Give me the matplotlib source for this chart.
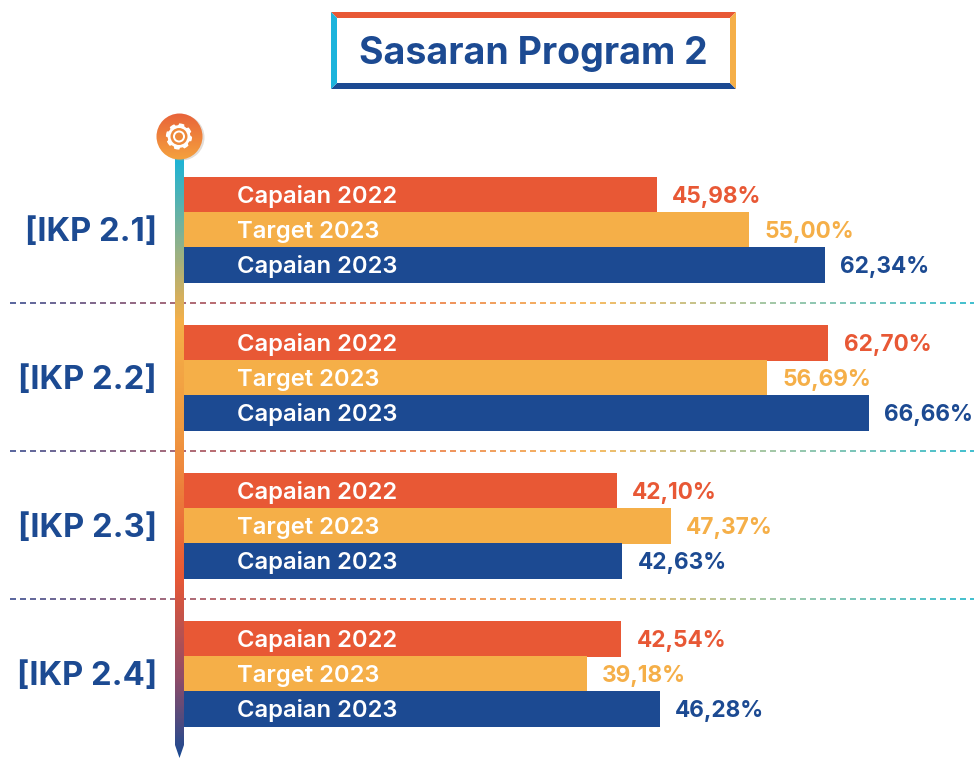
import numpy as np
import matplotlib
matplotlib.use("Agg")
import matplotlib.pyplot as plt
from matplotlib.colors import LinearSegmentedColormap
from matplotlib.patches import Polygon, Circle, Rectangle
from matplotlib.collections import LineCollection

groups = ["[IKP 2.1]", "[IKP 2.2]", "[IKP 2.3]", "[IKP 2.4]"]
series = ["Capaian 2022", "Target 2023", "Capaian 2023"]
capaian_2022 = [45.98, 62.70, 42.10, 42.54]
target_2023 = [55.00, 56.69, 47.37, 39.18]
capaian_2023 = [62.34, 66.66, 42.63, 46.28]
title = "Sasaran Program 2"

ORANGE, YELLOW, NAVY, CYAN = "#E85835", "#F5AF48", "#1C4A92", "#1DB4DC"
colors = [ORANGE, YELLOW, NAVY]
FONT = "Inter"
W, H = 974, 758

fig = plt.figure(figsize=(W / 100, H / 100), dpi=100, facecolor="white")

# decoration layer in pixel coordinates
bg = fig.add_axes([0, 0, 1, 1])
bg.set_xlim(0, W); bg.set_ylim(H, 0); bg.axis("off")

# gradient dashed separators
sep_cmap = LinearSegmentedColormap.from_list("sep", ["#3C4A8C", "#A8505A", "#E8703C", "#F5AF48", "#8CBE9C", "#1DB4C8"])
for y in (303, 451, 599):
    xs = np.arange(10, W, 10.0)
    segs = [[(x, y), (x + 6, y)] for x in xs]
    bg.add_collection(LineCollection(segs, colors=sep_cmap((xs - 10) / (W - 10)), linewidths=1.2, zorder=1))

# vertical gradient spine
spine_cmap = LinearSegmentedColormap.from_list(
    "spine", [(0, "#1DB4D6"), (0.27, "#F5AF48"), (0.45, "#F09A40"), (0.70, "#E85835"), (0.87, "#8F4C68"), (1, "#1C4A92")])
im = bg.imshow(np.linspace(0, 1, 300)[:, None], cmap=spine_cmap, extent=(175, 184, 758, 158),
               aspect="auto", zorder=2, interpolation="bilinear")
clip = Polygon([(175, 158), (184, 158), (184, 745), (179.5, 758), (175, 745)], transform=bg.transData,
               facecolor="none", edgecolor="none")
bg.add_patch(clip)
im.set_clip_path(clip)
bg.set_xlim(0, W); bg.set_ylim(H, 0)

# medallion
bg.add_patch(Circle((181.5, 137.5), 23, facecolor="#B0A090", alpha=0.35, edgecolor="none", zorder=3))
disc_cmap = LinearSegmentedColormap.from_list("disc", ["#E8633A", "#F5A23E"])
disc = bg.imshow(np.linspace(0, 1, 100)[:, None], cmap=disc_cmap, extent=(156, 203, 160, 113),
                 aspect="auto", zorder=4)
dc = Circle((179.5, 136.5), 23, transform=bg.transData, facecolor="none", edgecolor="none")
bg.add_patch(dc)
disc.set_clip_path(dc)
bg.set_xlim(0, W); bg.set_ylim(H, 0)
teeth = np.linspace(0, 2 * np.pi, 96)
r = 11.5 + 0.9 * np.sign(np.sin(teeth * 8))
bg.fill(179 + r * np.cos(teeth), 136.5 + r * np.sin(teeth), color="white", zorder=5)
bg.add_patch(Circle((179, 136.5), 8.5, facecolor="#EE8A3A", edgecolor="none", zorder=6))
bg.add_patch(Circle((179, 136.5), 6, facecolor="white", edgecolor="none", zorder=7))
bg.add_patch(Circle((179, 136.5), 4, facecolor="#EE8A3A", edgecolor="none", zorder=8))

# title frame with mitred corners
L, R, T, B, t = 331, 736, 12, 89, 6
bg.add_patch(Polygon([(L, T), (R, T), (R - t, T + t), (L + t, T + t)], color=ORANGE, lw=0, zorder=3))
bg.add_patch(Polygon([(L, B), (R, B), (R - t, B - t), (L + t, B - t)], color=NAVY, lw=0, zorder=3))
bg.add_patch(Polygon([(L, T), (L + t, T + t), (L + t, B - t), (L, B)], color=CYAN, lw=0, zorder=3))
bg.add_patch(Polygon([(R, T), (R - t, T + t), (R - t, B - t), (R, B)], color=YELLOW, lw=0, zorder=3))
bg.text(533.5, 54, title, ha="center", va="center", color=NAVY, fontsize=27, fontweight="bold", family=FONT)

# bars
px_unit = 10.27
ax = fig.add_axes([184.3 / W, 0, (W - 184.3) / W, 1])
ax.patch.set_alpha(0)
ax.set_xlim(0, (W - 184.3) / px_unit)
ax.set_ylim(H, 0)
ax.axis("off")
all_vals = [capaian_2022, target_2023, capaian_2023]
for g, name in enumerate(groups):
    top = 177.5 + 148 * g
    bg.text(157, top + 55, name, ha="right", va="center", color=NAVY, fontsize=23.6, fontweight="bold", family=FONT)
    for s, vals in enumerate(all_vals):
        yc = top + 17.5 + 35 * s
        ax.barh(yc, vals[g], height=35.3, left=0, color=colors[s], linewidth=0)
        ax.text(52.5 / px_unit, yc + 1.8, series[s], ha="left", va="center", color="white",
                fontsize=17.1, fontweight="semibold", family=FONT)
        ax.text(vals[g] + 15.5 / px_unit, yc + 1.8, f"{vals[g]:.2f}%".replace(".", ","), ha="left", va="center",
                color=colors[s], fontsize=16.3, fontweight="bold", family=FONT, clip_on=False)

fig.savefig("out.png", dpi=100, facecolor="white")
